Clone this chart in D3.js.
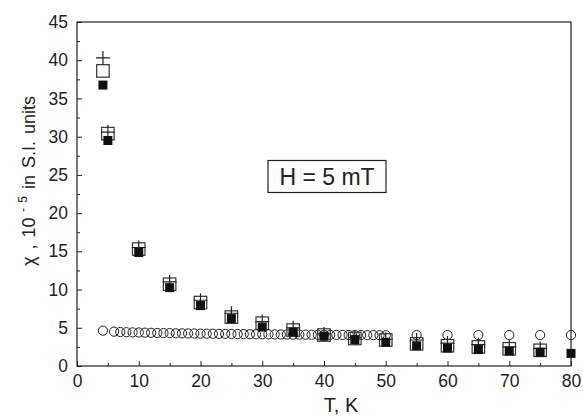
<!DOCTYPE html>
<html>
<head>
<meta charset="utf-8">
<script src="https://cdn.jsdelivr.net/npm/d3@7"></script>
<style>
  body { margin: 0; background: #fff; }
  svg text { font-family: Arial, "Liberation Sans", sans-serif; fill: #222; }
</style>
</head>
<body>
<svg id="chart" width="583" height="417"></svg>
<script>
// data (T in K, chi in 1e-5 SI)
var tSquares = [4.2, 5, 10, 15, 20, 25, 30, 35, 40, 45, 50, 55, 60, 65, 70, 75];
var openSquare = [38.6, 30.4, 15.3, 10.7, 8.3, 6.4, 5.6, 4.7, 4.05, 3.6, 3.4, 2.9, 2.65, 2.5, 2.25, 2.05];
var cross = [40.3, 30.6, 15.5, 11.0, 8.6, 6.9, 5.8, 5.0, 4.2, 3.7, 3.5, 3.4, 3.0, 2.8, 2.5, 2.3];
var tFilled = [4.2, 5, 10, 15, 20, 25, 30, 35, 40, 45, 50, 55, 60, 65, 70, 75, 80];
var filledSquare = [36.75, 29.5, 14.85, 10.25, 7.9, 6.2, 5.1, 4.45, 3.9, 3.45, 3.1, 2.65, 2.35, 2.15, 1.95, 1.8, 1.65];
var tCircles = [4.2, 6, 7, 8, 9, 10, 11, 12, 13, 14, 15, 16, 17, 18, 19, 20, 21, 22, 23, 24, 25,
  26, 27, 28, 29, 30, 31, 32, 33, 34, 35, 36, 37, 38, 39, 40, 41, 42, 43, 44, 45, 46, 47, 48, 49, 50,
  55, 60, 65, 70, 75, 80];
var circle = [4.62, 4.49, 4.45, 4.42, 4.40, 4.38, 4.36, 4.34, 4.32, 4.31, 4.30, 4.28, 4.27, 4.26, 4.25, 4.24,
  4.23, 4.22, 4.21, 4.20, 4.19, 4.18, 4.17, 4.16, 4.15, 4.15, 4.14, 4.13, 4.12, 4.12, 4.11, 4.10, 4.10,
  4.09, 4.08, 4.08, 4.07, 4.07, 4.06, 4.06, 4.05, 4.05, 4.04, 4.04, 4.03, 4.03,
  4.05, 4.05, 4.05, 4.05, 4.05, 4.05];
var xTicks = [0, 10, 20, 30, 40, 50, 60, 70, 80];
var yTicks = [0, 5, 10, 15, 20, 25, 30, 35, 40, 45];

var svg = d3.select("#chart");
var m = {left: 77, right: 571, top: 22, bottom: 366};
var ink = "#222";

var x = d3.scaleLinear().domain([0, 80]).range([m.left, m.right]);
var y = d3.scaleLinear().domain([0, 45]).range([m.bottom, m.top]);

// frame
svg.append("rect")
  .attr("x", m.left).attr("y", m.top)
  .attr("width", m.right - m.left).attr("height", m.bottom - m.top)
  .attr("fill", "none").attr("stroke", ink).attr("stroke-width", 1.2);

// ticks point inward
var xAxis = d3.axisBottom(x).tickValues(xTicks).tickSize(-5).tickPadding(9);
var gx = svg.append("g").attr("transform", "translate(0," + m.bottom + ")").call(xAxis);
gx.select(".domain").remove();
gx.selectAll("line").attr("stroke", ink);
gx.selectAll("text").style("font-size", "17.5px");
svg.append("g").attr("transform", "translate(0," + m.bottom + ")")
  .call(d3.axisBottom(x).tickValues(d3.range(5, 80, 10)).tickSize(-3).tickFormat(""))
  .call(g => g.select(".domain").remove())
  .selectAll("line").attr("stroke", ink);

var yAxis = d3.axisLeft(y).tickValues(yTicks).tickSize(-5).tickPadding(9);
var gy = svg.append("g").attr("transform", "translate(" + m.left + ",0)").call(yAxis);
gy.select(".domain").remove();
gy.selectAll("line").attr("stroke", ink);
gy.selectAll("text").style("font-size", "17.5px");
svg.append("g").attr("transform", "translate(" + m.left + ",0)")
  .call(d3.axisLeft(y).tickValues(d3.range(2.5, 45, 5)).tickSize(-3).tickFormat(""))
  .call(g => g.select(".domain").remove())
  .selectAll("line").attr("stroke", ink);

// axis titles
svg.append("text")
  .attr("x", (m.left + m.right) / 2 + 17).attr("y", 412)
  .attr("text-anchor", "middle").style("font-size", "20px")
  .text("T, K");

var yl = svg.append("text")
  .attr("transform", "translate(35,181) rotate(-90)")
  .attr("text-anchor", "middle").style("font-size", "18px")
  .attr("word-spacing", "2px");
yl.append("tspan").text("\u03c7 , 10");
yl.append("tspan").attr("dy", -8).style("font-size", "12px").text(" - 5");
yl.append("tspan").attr("dy", 8).text(" in S.I. units");

// open circles
svg.append("g").selectAll("circle")
  .data(tCircles.map((t, i) => [t, circle[i]]))
  .join("circle")
  .attr("cx", d => x(d[0])).attr("cy", d => y(d[1])).attr("r", 4.6)
  .attr("fill", "none").attr("stroke", ink).attr("stroke-width", 1);

// open squares
var so = 12.5;
svg.append("g").selectAll("rect")
  .data(tSquares.map((t, i) => [t, openSquare[i]]))
  .join("rect")
  .attr("x", d => x(d[0]) - so / 2).attr("y", d => y(d[1]) - so / 2)
  .attr("width", so).attr("height", so)
  .attr("fill", "none").attr("stroke", "#333").attr("stroke-width", 1.2);

// crosses
var cs = 7;
svg.append("g").selectAll("path")
  .data(tSquares.map((t, i) => [t, cross[i]]))
  .join("path")
  .attr("d", d => {
    var cx = x(d[0]), cy = y(d[1]);
    return "M" + (cx - cs) + "," + cy + "H" + (cx + cs) + "M" + cx + "," + (cy - cs) + "V" + (cy + cs);
  })
  .attr("stroke", ink).attr("stroke-width", 1.2).attr("fill", "none");

// filled squares
var sf = 9;
svg.append("g").selectAll("rect")
  .data(tFilled.map((t, i) => [t, filledSquare[i]]))
  .join("rect")
  .attr("x", d => x(d[0]) - sf / 2).attr("y", d => y(d[1]) - sf / 2)
  .attr("width", sf).attr("height", sf)
  .attr("fill", "#111");

// field label
svg.append("rect")
  .attr("x", 268).attr("y", 160.5).attr("width", 118).attr("height", 32)
  .attr("fill", "#fff").attr("stroke", ink).attr("stroke-width", 1.2);
svg.append("text")
  .attr("x", 327).attr("y", 185).attr("text-anchor", "middle")
  .style("font-size", "23px").text("H = 5 mT");
</script>
</body>
</html>
